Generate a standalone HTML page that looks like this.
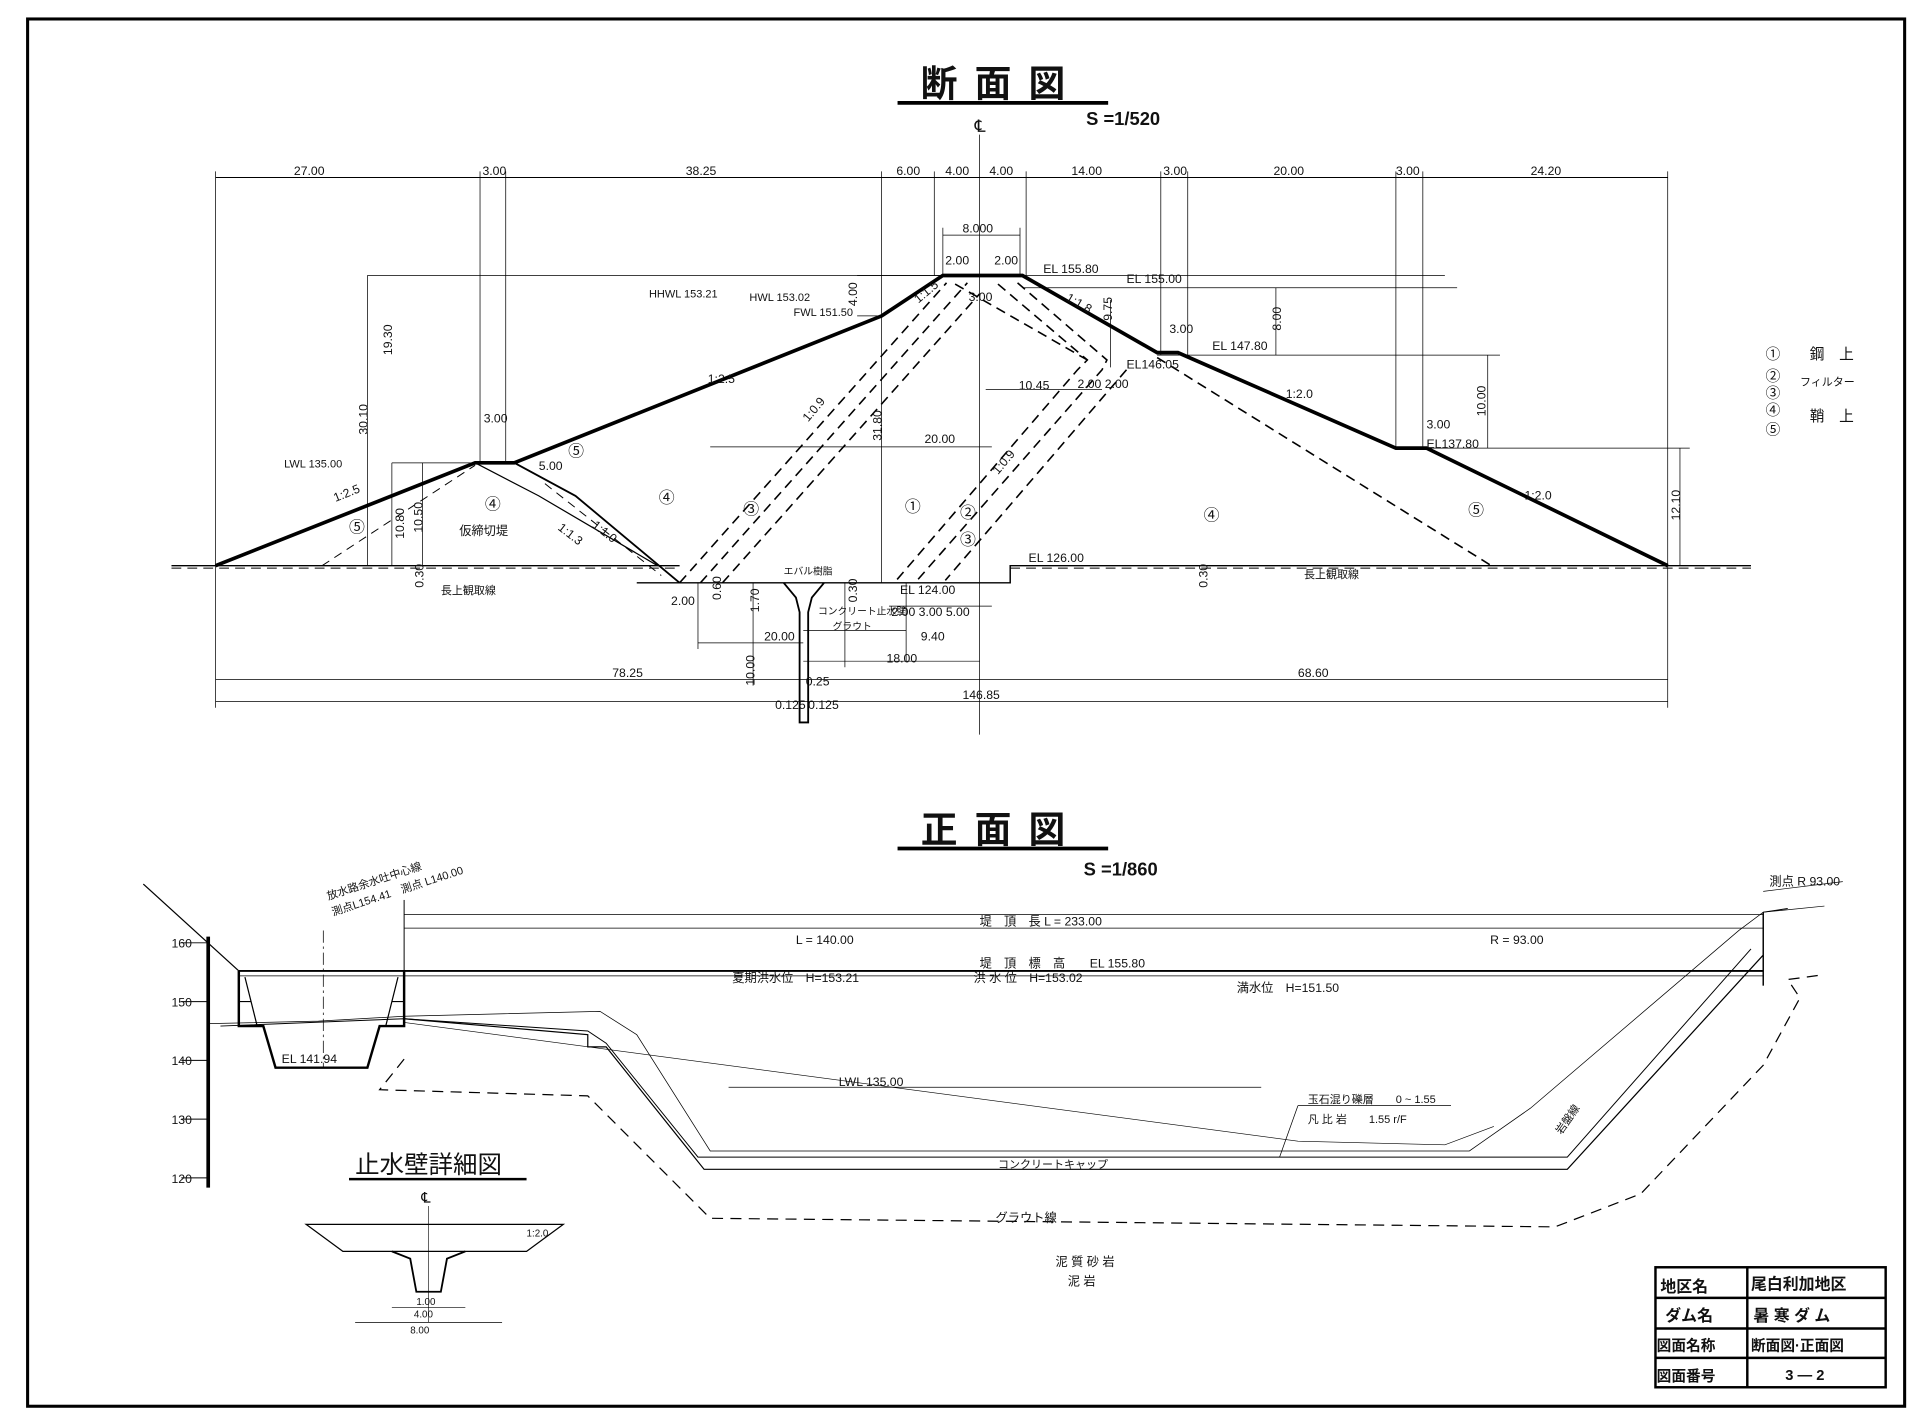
<!DOCTYPE html>
<html><head><meta charset="utf-8"><style>
html,body{margin:0;padding:0;background:#fff;}
svg{display:block;}
text{font-family:"Liberation Sans","Noto Sans CJK JP",sans-serif;fill:#111;}
</style></head><body>
<svg width="1920" height="1424" viewBox="0 0 1568 1163" xmlns="http://www.w3.org/2000/svg">
<rect x="0" y="0" width="1568" height="1163" fill="#fff"/>
<rect x="22.5" y="15.5" width="1533" height="1133" fill="none" stroke="#000" stroke-width="2.5"/>

<text x="752" y="79" font-size="30" font-weight="bold" letter-spacing="14">断面図</text>
<line x1="733" y1="84" x2="905" y2="84" stroke="#000" stroke-width="3"/>
<text x="887" y="102" font-size="15" font-weight="bold">S =1/520</text>
<text x="796" y="108" font-size="14">℄</text>

<text x="752" y="688" font-size="30" font-weight="bold" letter-spacing="14">正面図</text>
<line x1="733" y1="693" x2="905" y2="693" stroke="#000" stroke-width="3"/>
<text x="885" y="715" font-size="15" font-weight="bold">S =1/860</text>

<g stroke="#000" fill="none" stroke-width="0.8">
<line x1="176" y1="145" x2="1362" y2="145"/>
<g stroke-width="0.6">
<line x1="176" y1="140" x2="176" y2="462"/>
<line x1="392" y1="140" x2="392" y2="378"/>
<line x1="413" y1="140" x2="413" y2="378"/>
<line x1="720" y1="140" x2="720" y2="476"/>
<line x1="763" y1="140" x2="763" y2="225"/>
<line x1="800" y1="110" x2="800" y2="600"/>
<line x1="838" y1="140" x2="838" y2="225"/>
<line x1="948" y1="140" x2="948" y2="290"/>
<line x1="970" y1="140" x2="970" y2="290"/>
<line x1="1140" y1="140" x2="1140" y2="366"/>
<line x1="1162" y1="140" x2="1162" y2="366"/>
<line x1="1362" y1="140" x2="1362" y2="578"/>
<line x1="770" y1="192" x2="833" y2="192"/>
<line x1="770" y1="186" x2="770" y2="225"/>
<line x1="833" y1="186" x2="833" y2="225"/>
<line x1="700" y1="225" x2="1180" y2="225"/>
<line x1="835" y1="235" x2="1190" y2="235"/>
<line x1="720" y1="258" x2="700" y2="258"/>
<line x1="300" y1="225" x2="770" y2="225"/>
<line x1="300" y1="225" x2="300" y2="462"/>
<line x1="320" y1="378" x2="395" y2="378"/>
<line x1="320" y1="378" x2="320" y2="462"/>
<line x1="345" y1="378" x2="345" y2="462"/>
<line x1="945" y1="290" x2="1225" y2="290"/>
<line x1="1215" y1="290" x2="1215" y2="366"/>
<line x1="1160" y1="366" x2="1380" y2="366"/>
<line x1="1372" y1="366" x2="1372" y2="462"/>
<line x1="1042" y1="235" x2="1042" y2="290"/>
<line x1="805" y1="318" x2="900" y2="318"/>
<line x1="580" y1="365" x2="810" y2="365"/>
<line x1="907" y1="245" x2="907" y2="300"/>
</g>
<line x1="140" y1="462" x2="555" y2="462" stroke-width="1.2"/>
<line x1="140" y1="464" x2="555" y2="464" stroke-dasharray="8 5"/>
<polyline points="520,476 825,476 825,462 1430,462" stroke-width="1.2"/>
<line x1="825" y1="464" x2="1430" y2="464" stroke-dasharray="8 5"/>
<polyline points="176,462 388,378 420,378 720,258 770,225 835,225 945,288 962,288 1140,366 1165,366 1362,462" stroke-width="3"/>
<polyline points="420,378 470,405 555,476" stroke-width="1.5"/>
<polyline points="388,378 440,405 537,462" stroke-width="1"/>
<line x1="263" y1="462" x2="388" y2="380" stroke-dasharray="7 5"/>
<line x1="445" y1="395" x2="540" y2="470" stroke-dasharray="7 5"/>
<g stroke-dasharray="8 5" stroke-width="1.3">
<line x1="555" y1="476" x2="773" y2="231"/>
<line x1="572" y1="476" x2="790" y2="231"/>
<line x1="590" y1="476" x2="800" y2="240"/>
<line x1="780" y1="232" x2="888" y2="294"/>
<polyline points="815,232 888,294 880,302 732,474"/>
<polyline points="831,231 904,294 900,302 749,474"/>
<line x1="920" y1="302" x2="772" y2="474"/>
<line x1="945" y1="292" x2="1218" y2="462"/>
</g>
<path d="M640,476 L650,488 L653,500 L653,590 L660,590 L660,500 L663,488 L673,476" stroke-width="1.5"/>
<g stroke-width="0.6">
<line x1="176" y1="555" x2="1362" y2="555"/>
<line x1="176" y1="573" x2="1362" y2="573"/>
<line x1="176" y1="462" x2="176" y2="578"/>
<line x1="570" y1="476" x2="570" y2="530"/>
<line x1="570" y1="525" x2="656" y2="525"/>
<line x1="656" y1="540" x2="800" y2="540"/>
<line x1="656" y1="515" x2="740" y2="515"/>
<line x1="726" y1="495" x2="810" y2="495"/>
<line x1="615" y1="476" x2="615" y2="560"/>
<line x1="690" y1="476" x2="690" y2="545"/>
<line x1="740" y1="476" x2="740" y2="540"/>
</g>
</g>

<g font-size="10">
<text x="240" y="143">27.00</text><text x="394" y="143">3.00</text><text x="560" y="143">38.25</text>
<text x="732" y="143">6.00</text><text x="772" y="143">4.00</text><text x="808" y="143">4.00</text>
<text x="875" y="143">14.00</text><text x="950" y="143">3.00</text><text x="1040" y="143">20.00</text>
<text x="1140" y="143">3.00</text><text x="1250" y="143">24.20</text>
<text x="786" y="190">8.000</text><text x="772" y="216">2.00</text><text x="812" y="216">2.00</text>
<text x="791" y="246">3.00</text><text x="852" y="223">EL 155.80</text><text x="920" y="231">EL 155.00</text>
<text x="530" y="243" font-size="9">HHWL 153.21</text><text x="612" y="246" font-size="9">HWL 153.02</text>
<text x="648" y="258" font-size="9">FWL 151.50</text>
<text x="955" y="272">3.00</text><text x="990" y="286">EL 147.80</text>
<text x="920" y="301">EL146.05</text><text x="880" y="317">2.00 2.00</text><text x="832" y="318">10.45</text>
<text x="755" y="362">20.00</text><text x="578" y="313">1:2.5</text><text x="395" y="345">3.00</text>
<text x="440" y="384">5.00</text><text x="232" y="382" font-size="9">LWL 135.00</text>
<text x="1165" y="350">3.00</text><text x="1165" y="366">EL137.80</text>
<text x="1050" y="325">1:2.0</text><text x="1245" y="408">1:2.0</text>
<text x="840" y="459">EL 126.00</text><text x="735" y="485">EL 124.00</text>
<text x="375" y="437">仮締切堤</text>
<text x="640" y="469" font-size="8">エバル樹脂</text>
<text x="668" y="502" font-size="8">コンクリート止水壁</text><text x="680" y="514" font-size="8">グラウト</text>
<text x="360" y="485" font-size="9">長上観取線</text><text x="1065" y="472" font-size="9">長上観取線</text>
<text x="548" y="494">2.00</text><text x="624" y="523">20.00</text><text x="728" y="503">2.00 3.00  5.00</text>
<text x="752" y="523">9.40</text><text x="724" y="541">18.00</text>
<text x="500" y="553">78.25</text><text x="1060" y="553">68.60</text>
<text x="658" y="560">0.25</text><text x="633" y="579">0.125</text><text x="660" y="579">0.125</text>
<text x="786" y="571">146.85</text>
</g>
<g font-size="10">
<text transform="translate(274,410) rotate(-22)">1:2.5</text>
<text transform="translate(483,430) rotate(38)">1:1.0</text>
<text transform="translate(455,432) rotate(38)">1:1.3</text>
<text transform="translate(660,345) rotate(-50)">1:0.9</text>
<text transform="translate(815,388) rotate(-50)">1:0.9</text>
<text transform="translate(750,248) rotate(-40)">1:1.5</text>
<text transform="translate(870,245) rotate(30)">1:1.8</text>
<text transform="translate(300,355) rotate(-90)">30.10</text>
<text transform="translate(320,290) rotate(-90)">19.30</text>
<text transform="translate(330,440) rotate(-90)">10.80</text>
<text transform="translate(345,435) rotate(-90)">10.50</text>
<text transform="translate(700,250) rotate(-90)">4.00</text>
<text transform="translate(720,360) rotate(-90)">31.80</text>
<text transform="translate(908,262) rotate(-90)">9.75</text>
<text transform="translate(1046,270) rotate(-90)">8.00</text>
<text transform="translate(1213,340) rotate(-90)">10.00</text>
<text transform="translate(1372,425) rotate(-90)">12.10</text>
<text transform="translate(346,480) rotate(-90)">0.30</text>
<text transform="translate(986,480) rotate(-90)">0.30</text>
<text transform="translate(620,500) rotate(-90)">1.70</text>
<text transform="translate(616,560) rotate(-90)">10.00</text>
<text transform="translate(589,490) rotate(-90)">0.60</text>
<text transform="translate(700,492) rotate(-90)">0.30</text>
</g>
<g font-size="13">
<text x="285" y="435">⑤</text><text x="396" y="416">④</text><text x="464" y="373">⑤</text>
<text x="538" y="411">④</text><text x="607" y="420">③</text><text x="739" y="418">①</text>
<text x="784" y="423">②</text><text x="784" y="445">③</text><text x="983" y="425">④</text>
<text x="1199" y="421">⑤</text>
</g>
<g font-size="12">
<text x="1442" y="293">①</text><text x="1478" y="293">鋼　上</text>
<text x="1442" y="311">②</text><text x="1470" y="315" font-size="9">フィルター</text>
<text x="1442" y="325">③</text>
<text x="1442" y="339">④</text><text x="1478" y="344">鞘　上</text>
<text x="1442" y="355">⑤</text>
</g>

<g stroke="#000" fill="none">
<line x1="170" y1="765" x2="170" y2="970" stroke-width="3"/>
<g stroke-width="0.8">
<line x1="148" y1="770" x2="170" y2="770"/><line x1="148" y1="818" x2="170" y2="818"/>
<line x1="148" y1="866" x2="170" y2="866"/><line x1="148" y1="914" x2="170" y2="914"/>
<line x1="148" y1="962" x2="170" y2="962"/>
</g>
<line x1="117" y1="722" x2="195" y2="793" stroke-width="1"/>
<line x1="195" y1="793" x2="1440" y2="793" stroke-width="1.5"/>
<line x1="195" y1="797" x2="1440" y2="797" stroke-width="0.6"/>
<line x1="330" y1="758" x2="1440" y2="758" stroke-width="0.6"/>
<line x1="330" y1="747" x2="1440" y2="747" stroke-width="0.6"/>
<line x1="330" y1="735" x2="330" y2="800" stroke-width="0.8"/>
<line x1="264" y1="760" x2="264" y2="872" stroke-width="0.6" stroke-dasharray="10 3 2 3"/>
<path d="M195,793 L195,838 L215,838 L225,872 L300,872 L310,838 L330,838 L330,793" stroke-width="2"/>
<path d="M200,798 L210,838 M325,798 L315,838 M195,818 L205,818 M320,818 L330,818" stroke-width="1"/>
<path d="M170,836 L260,834 L330,830 L490,826 L520,845 L580,940 L1200,940 L1250,905 L1420,760 L1440,745 L1490,740" stroke-width="0.6"/>
<path d="M180,838 L330,832 L480,842 L495,852 L570,945 L1280,945 L1430,775" stroke-width="0.8"/>
<path d="M330,832 L480,845 L480,855 L495,855 L575,955 L1280,955 L1440,780" stroke-width="1"/>
<path d="M330,835 L1060,932 L1180,935 L1220,920" stroke-width="0.5"/>
<path d="M330,865 L310,890 L480,895 L580,995 L1270,1002 L1340,975 L1440,870 L1470,815 L1460,800 L1490,796" stroke-width="1" stroke-dasharray="9 6"/>
<line x1="1440" y1="745" x2="1440" y2="805" stroke-width="1.2"/>
<line x1="1440" y1="745" x2="1460" y2="742" stroke-width="0.8"/>
<line x1="595" y1="888" x2="1030" y2="888" stroke-width="0.6"/>
<line x1="1060" y1="903" x2="1185" y2="903" stroke-width="0.6"/>
<line x1="1060" y1="903" x2="1045" y2="945" stroke-width="0.6"/>
<line x1="1440" y1="728" x2="1505" y2="720" stroke-width="0.6"/>
</g>
<g font-size="10">
<text x="140" y="774">160</text><text x="140" y="822">150</text><text x="140" y="870">140</text>
<text x="140" y="918">130</text><text x="140" y="966">120</text>
<text x="230" y="868">EL 141.94</text>
<text x="800" y="756">堤　頂　長 L = 233.00</text>
<text x="650" y="771">L = 140.00</text><text x="1217" y="771">R = 93.00</text>
<text x="800" y="790">堤　頂　標　高　　EL 155.80</text>
<text x="598" y="802">夏期洪水位　H=153.21</text><text x="795" y="802">洪 水 位　H=153.02</text>
<text x="1010" y="810">満水位　H=151.50</text>
<text x="685" y="887">LWL 135.00</text>
<text x="1068" y="901" font-size="9">玉石混り礫層　　0 ~ 1.55</text>
<text x="1068" y="917" font-size="9">凡 比 岩　　1.55 r/F</text>
<text x="815" y="954" font-size="9">コンクリートキャップ</text>
<text x="813" y="998">グラウト線</text>
<text x="862" y="1034">泥 質 砂 岩</text><text x="872" y="1050">泥 岩</text>
<text x="1445" y="723">測点 R 93.00</text>
<text transform="translate(272,748) rotate(-18)" font-size="9">測点L154.41　測点 L140.00</text>
<text transform="translate(268,735) rotate(-18)" font-size="9">放水路余水吐中心線</text>
<text transform="translate(1275,927) rotate(-55)" font-size="9">岩盤線</text>
</g>

<text x="290" y="958" font-size="20">止水壁詳細図</text>
<line x1="285" y1="963" x2="430" y2="963" stroke="#000" stroke-width="2"/>
<text x="344" y="982" font-size="12">℄</text>
<g stroke="#000" fill="none">
<path d="M250,1000 L460,1000 L430,1022 L280,1022 Z" stroke-width="1"/>
<path d="M320,1022 L335,1028 L340,1055 L360,1055 L365,1028 L380,1022" stroke-width="1.5"/>
<line x1="350" y1="985" x2="350" y2="1080" stroke-width="0.5"/>
<line x1="290" y1="1080" x2="410" y2="1080" stroke-width="0.6"/>
<line x1="320" y1="1068" x2="380" y2="1068" stroke-width="0.6"/>
</g>
<g font-size="8">
<text x="340" y="1066">1.00</text><text x="338" y="1076">4.00</text><text x="335" y="1089">8.00</text>
<text x="430" y="1010">1:2.0</text>
</g>

<g stroke="#000" fill="none" stroke-width="2">
<rect x="1352" y="1035" width="188" height="98"/>
<line x1="1427" y1="1035" x2="1427" y2="1133"/>
<line x1="1352" y1="1060" x2="1540" y2="1060"/>
<line x1="1352" y1="1085" x2="1540" y2="1085"/>
<line x1="1352" y1="1109" x2="1540" y2="1109"/>
</g>
<g font-size="13" font-weight="bold">
<text x="1356" y="1055">地区名</text><text x="1430" y="1053">尾白利加地区</text>
<text x="1360" y="1079">ダム名</text><text x="1432" y="1079">暑 寒 ダ ム</text>
<text x="1353" y="1103" font-size="12">図面名称</text><text x="1430" y="1103" font-size="12">断面図·正面図</text>
<text x="1353" y="1128" font-size="12">図面番号</text><text x="1458" y="1127" font-size="12">3 — 2</text>
</g>
</svg>
</body></html>
